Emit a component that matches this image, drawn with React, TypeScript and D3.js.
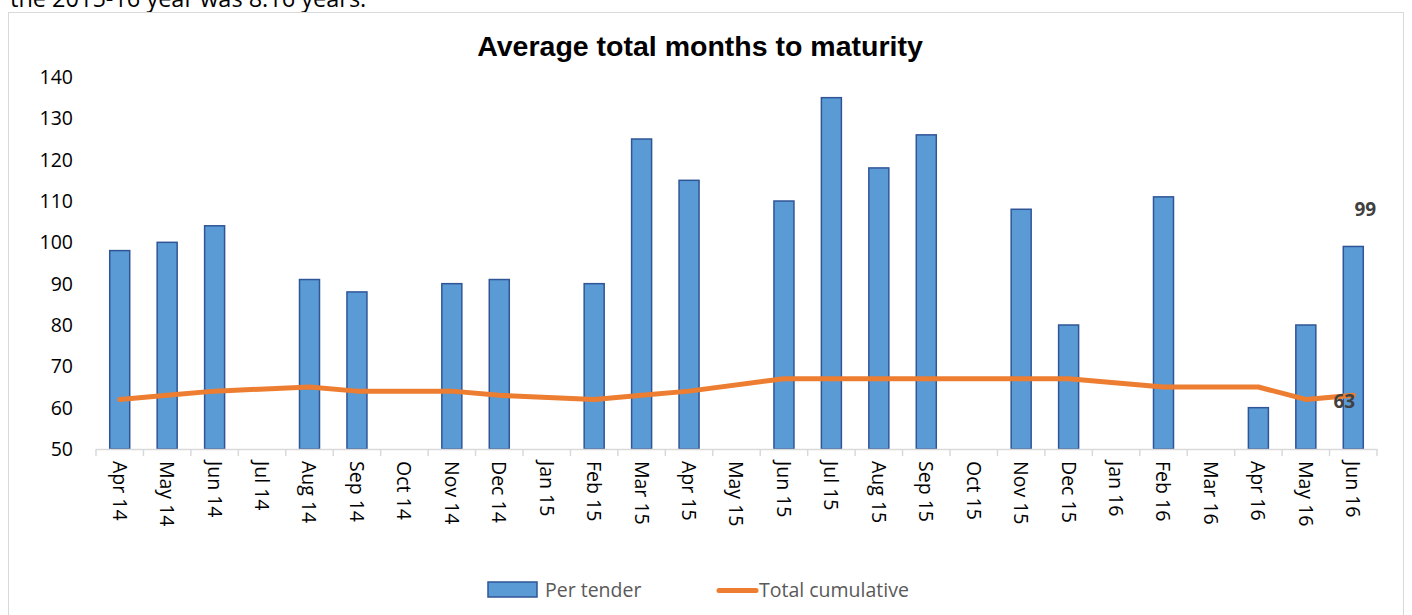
import React from 'react';
import * as d3 from 'd3';

const months = [
  'Apr 14', 'May 14', 'Jun 14', 'Jul 14', 'Aug 14', 'Sep 14', 'Oct 14', 'Nov 14', 'Dec 14',
  'Jan 15', 'Feb 15', 'Mar 15', 'Apr 15', 'May 15', 'Jun 15', 'Jul 15', 'Aug 15', 'Sep 15',
  'Oct 15', 'Nov 15', 'Dec 15', 'Jan 16', 'Feb 16', 'Mar 16', 'Apr 16', 'May 16', 'Jun 16',
];

// null = no tender that month
const perTender: (number | null)[] = [
  98, 100, 104, null, 91, 88, null, 90, 91,
  null, 90, 125, 115, null, 110, 135, 118, 126,
  null, 108, 80, null, 111, null, 60, 80, 99,
];

const totalCumulative: (number | null)[] = [
  62, 63, 64, null, 65, 64, null, 64, 63,
  null, 62, 63, 64, null, 67, 67, 67, 67,
  null, 67, 67, null, 65, null, 65, 62, 63,
];

const yTicks = [50, 60, 70, 80, 90, 100, 110, 120, 130, 140];

const W = 1412;
const H = 615;
const font = '"Open Sans", "Noto Sans", sans-serif';
const titleFont = '"Liberation Sans", Arial, sans-serif';

const App: React.FC = () => {
  const x = d3.scaleBand<string>().domain(months).range([96, 1377]);
  const y = d3.scaleLinear().domain([50, 140]).range([449, 77]);
  const barW = 20;

  const pts = months
    .map((m, i) => ({ m, v: totalCumulative[i] }))
    .filter(d => d.v !== null) as { m: string; v: number }[];
  const line = d3
    .line<{ m: string; v: number }>()
    .x(d => (x(d.m) as number) + x.bandwidth() / 2)
    .y(d => y(d.v));

  const last = months.length - 1;
  const lastX = (x(months[last]) as number) + x.bandwidth() / 2;

  return (
    <div style={{ position: 'fixed', left: 0, top: 0, width: W, height: H, background: '#fff' }}>
      <svg width={W} height={H} style={{ display: 'block' }}>
        <text x={10} y={7} fontFamily={font} fontSize={23.5} fill="#000">
          the 2015-16 year was 8.16 years.
        </text>
        <rect x={8.5} y={12.5} width={1395} height={620} fill="#fff" stroke="#d9d9d9" />
        <text x={700} y={56} textAnchor="middle" fontFamily={titleFont} fontWeight="bold" fontSize={28.5} fill="#000">
          Average total months to maturity
        </text>

        {yTicks.map(t => (
          <text key={t} x={73} y={y(t)} dy="0.36em" textAnchor="end" fontFamily={font} fontSize={19.5} fill="#000">
            {t}
          </text>
        ))}

        {months.map((m, i) =>
          perTender[i] === null ? null : (
            <rect
              key={m}
              x={(x(m) as number) + x.bandwidth() / 2 - barW / 2}
              y={y(perTender[i] as number)}
              width={barW}
              height={y(50) - y(perTender[i] as number)}
              fill="#5B9BD5"
              stroke="#2F5597"
              strokeWidth={1.5}
            />
          )
        )}

        <line x1={96} x2={1377} y1={449.5} y2={449.5} stroke="#d9d9d9" strokeWidth={1.5} />
        {months.concat(['end']).map((m, i) => {
          const tx = 96 + i * x.step();
          return <line key={'t' + i} x1={tx} x2={tx} y1={449} y2={456} stroke="#d9d9d9" strokeWidth={1.5} />;
        })}

        {months.map(m => {
          const cx = (x(m) as number) + x.bandwidth() / 2;
          return (
            <text
              key={'l' + m}
              transform={`translate(${cx},461) rotate(90)`}
              dy="0.36em"
              textAnchor="start"
              fontFamily={font}
              fontSize={19.5}
              fill="#000"
            >
              {m}
            </text>
          );
        })}

        <path d={line(pts) ?? ''} fill="none" stroke="#ED7D31" strokeWidth={5} strokeLinejoin="round" strokeLinecap="round" />

        <text x={lastX + 12} y={y(perTender[last] as number) - 30} textAnchor="middle" fontFamily={font} fontWeight="bold" fontSize={19} fill="#404040">
          {perTender[last]}
        </text>
        <text x={lastX - 9} y={y(totalCumulative[last] as number) + 13} textAnchor="middle" fontFamily={font} fontWeight="bold" fontSize={19} fill="#404040">
          {totalCumulative[last]}
        </text>

        <rect x={488} y={582} width={49} height={15} fill="#5B9BD5" stroke="#2F5597" strokeWidth={1.5} />
        <text x={545} y={590} dy="0.36em" fontFamily={font} fontSize={19.5} fill="#595959">
          Per tender
        </text>
        <line x1={719} x2={756} y1={590.5} y2={590.5} stroke="#ED7D31" strokeWidth={5} strokeLinecap="round" />
        <text x={759} y={590} dy="0.36em" fontFamily={font} fontSize={19.5} fill="#595959">
          Total cumulative
        </text>
      </svg>
    </div>
  );
};

export default App;
